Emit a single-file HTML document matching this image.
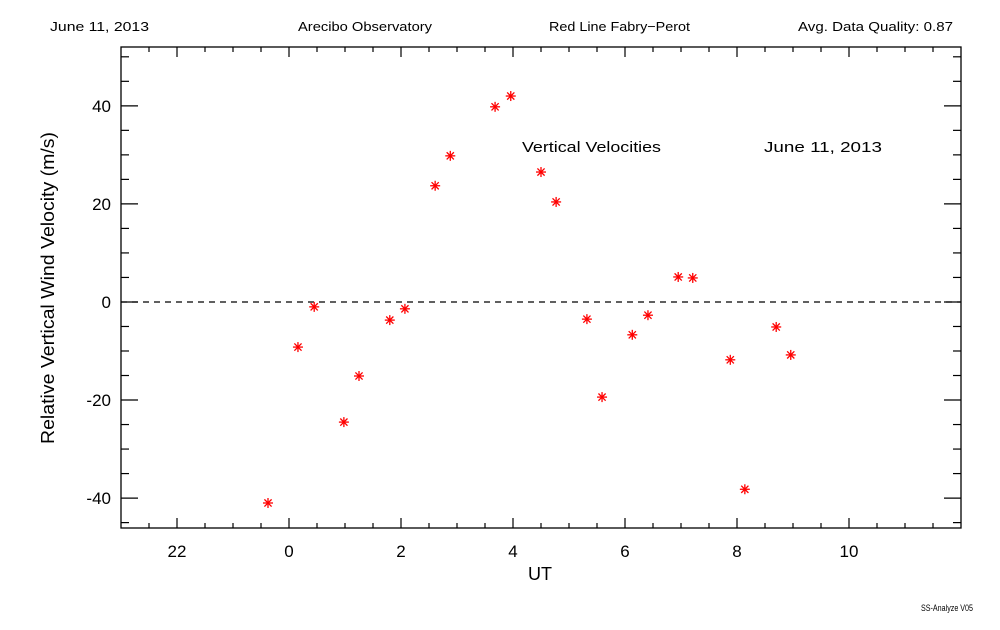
<!DOCTYPE html>
<html><head><meta charset="utf-8"><style>
body{margin:0;background:#fff;}
svg text{font-family:"Liberation Sans",sans-serif;fill:#000;}
</style></head><body>
<svg id="chart" width="1000" height="625" xmlns="http://www.w3.org/2000/svg">
<rect width="1000" height="625" fill="#fff"/>
<text x="50" y="31" font-size="13" textLength="99" lengthAdjust="spacingAndGlyphs">June 11, 2013</text>
<text x="298" y="31" font-size="13" textLength="134" lengthAdjust="spacingAndGlyphs">Arecibo Observatory</text>
<text x="549" y="31" font-size="13" textLength="141" lengthAdjust="spacingAndGlyphs">Red Line Fabry−Perot</text>
<text x="798" y="31" font-size="13" textLength="155" lengthAdjust="spacingAndGlyphs">Avg. Data Quality: 0.87</text>
<text x="921" y="611" font-size="9" textLength="52" lengthAdjust="spacingAndGlyphs">SS-Analyze V05</text>
<g id="axes"></g>
<g id="marks"></g>
<text x="522" y="152" font-size="15" textLength="139" lengthAdjust="spacingAndGlyphs">Vertical Velocities</text>
<text x="764" y="152" font-size="15" textLength="118" lengthAdjust="spacingAndGlyphs">June 11, 2013</text>
<text x="540" y="580" font-size="18" text-anchor="middle">UT</text>
<text x="54" y="288" font-size="18" text-anchor="middle" transform="rotate(-90 54 288)" textLength="312" lengthAdjust="spacingAndGlyphs">Relative Vertical Wind Velocity (m/s)</text>
</svg>
<script>
const times=[-0.375,0.16,0.45,0.98,1.25,1.8,2.07,2.61,2.88,3.68,3.96,4.5,4.77,5.32,5.59,6.13,6.41,6.95,7.21,7.88,8.14,8.7,8.96];
const velocities=[-41,-9.2,-1,-24.5,-15.1,-3.7,-1.4,23.7,29.8,39.8,42,26.5,20.4,-3.5,-19.4,-6.7,-2.7,5.1,4.9,-11.8,-38.2,-5.1,-10.8];
const xTickValues=[-2,0,2,4,6,8,10];
const xTickLabels=["22","0","2","4","6","8","10"];
const yTickValues=[-40,-20,0,20,40];
const yTickLabels=["-40","-20","0","20","40"];
const X0=-3,X1=12,Y0=-46.1,Y1=52;
const L=121,R=961,T=47,B=528;
const xs=t=>L+(t-X0)/(X1-X0)*(R-L);
const ys=v=>B-(v-Y0)/(Y1-Y0)*(B-T);
const NS="http://www.w3.org/2000/svg";
const axes=document.getElementById('axes'),marks=document.getElementById('marks');
function mk(tag,attrs,parent){const e=document.createElementNS(NS,tag);for(const k in attrs)e.setAttribute(k,attrs[k]);parent.appendChild(e);return e;}
const frame=mk('rect',{x:L,y:T,width:R-L,height:B-T,fill:'none',stroke:'#000','stroke-width':1.3},axes);


for(let t=X0+0.5;t<X1;t+=0.5){
  const major=Math.abs(t-Math.round(t/2)*2)<1e-6;
  const len=major?10:5;const x=xs(t);
  const a=mk('line',{x1:x,x2:x,y1:B,y2:B-len,stroke:'#000','stroke-width':1.2},axes);
  
  
  const b=mk('line',{x1:x,x2:x,y1:T,y2:T+len,stroke:'#000','stroke-width':1.2},axes);
  
  
}
for(let v=-45;v<=50;v+=5){
  const major=v%20===0;const len=major?17:8;const y=ys(v);
  const a=mk('line',{x1:L,x2:L+len,y1:y,y2:y,stroke:'#000','stroke-width':1.2},axes);
  
  
  const b=mk('line',{x1:R,x2:R-len,y1:y,y2:y,stroke:'#000','stroke-width':1.2},axes);
  
  
}
xTickValues.forEach((v,i)=>{
  const t=mk('text',{x:xs(v),y:557,'font-size':17,'text-anchor':'middle'},axes);
  t.textContent=xTickLabels[i];
  
  
});
yTickValues.forEach((v,i)=>{
  const t=mk('text',{x:111,y:ys(v)+6,'font-size':17,'text-anchor':'end'},axes);
  t.textContent=yTickLabels[i];
  
  
});
const zl=mk('line',{x1:L,x2:R,y1:ys(0),y2:ys(0),stroke:'#000','stroke-width':1.2,'stroke-dasharray':'6,5'},axes);


times.forEach((t,i)=>{
  const x=xs(t),y=ys(velocities[i]);
  const g=mk('g',{stroke:'#f00','stroke-width':1.3},marks);
  
  
  const r=5;
  mk('line',{x1:x-r,x2:x+r,y1:y,y2:y},g);
  mk('line',{x1:x,x2:x,y1:y-r,y2:y+r},g);
  mk('line',{x1:x-3.6,x2:x+3.6,y1:y-3.6,y2:y+3.6},g);
  mk('line',{x1:x-3.6,x2:x+3.6,y1:y+3.6,y2:y-3.6},g);
});
</script>
</body></html>
